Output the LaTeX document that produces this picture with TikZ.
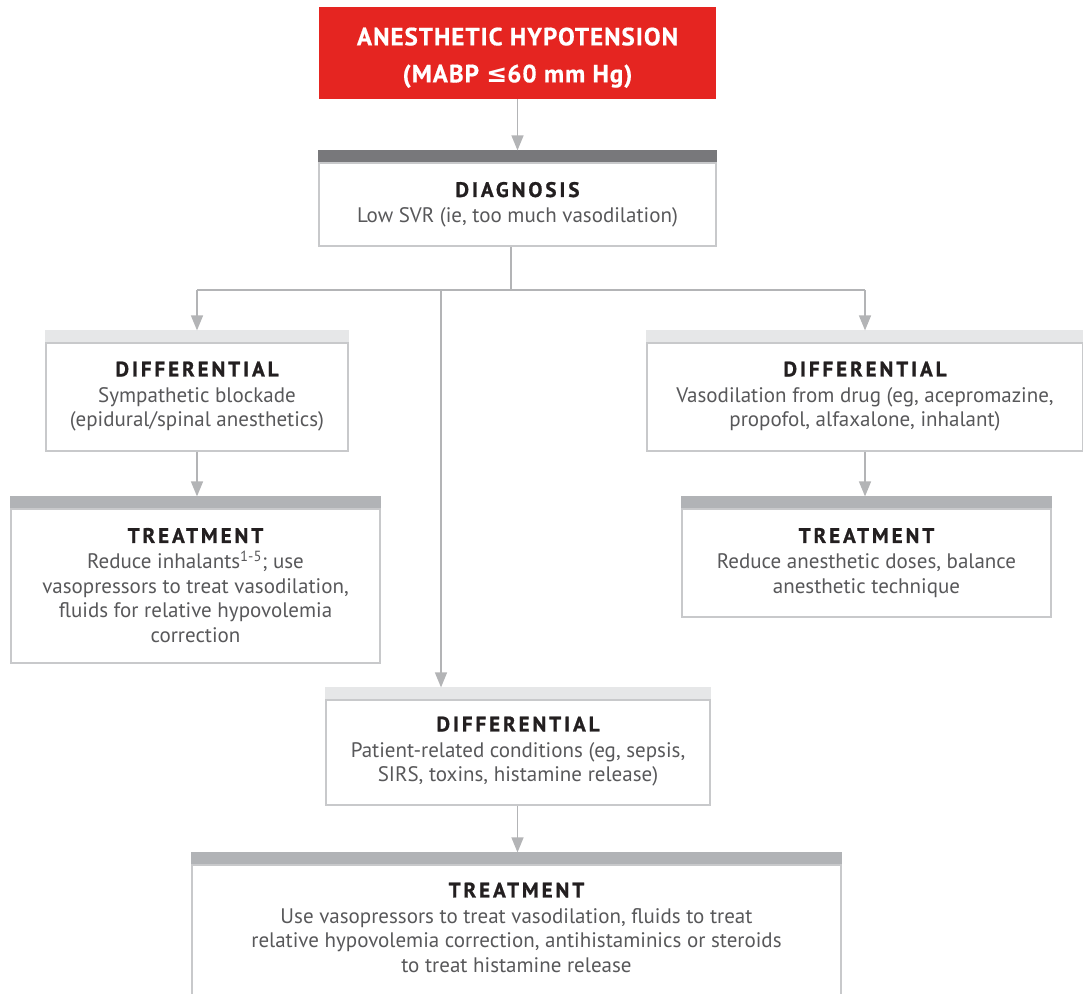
\documentclass[tikz,border=0pt]{standalone}
\usepackage{fontspec}
\setmainfont{PT Sans}
\newfontfamily\headfont{PT Sans}[LetterSpace=14,BoldFeatures={FakeBold=1}]
\newfontfamily\redfont{PT Sans}[LetterSpace=4,BoldFeatures={FakeBold=0.6}]
\newfontfamily\symfont{DejaVu Sans}
\usetikzlibrary{arrows.meta}
\definecolor{alarmred}{HTML}{E52521}
\definecolor{bardark}{HTML}{78787B}
\definecolor{barlight}{HTML}{E6E7E8}
\definecolor{barmid}{HTML}{B1B3B6}
\definecolor{linegray}{HTML}{B3B4B6}
\definecolor{framegray}{HTML}{C8C9CB}
\definecolor{textgray}{HTML}{58585A}
\definecolor{titleblack}{HTML}{231F20}
\newcommand{\panel}[5][19]{\begin{minipage}[t][#3pt][t]{#2pt}\centering
\vspace*{#1pt}{\headfont\bfseries\color{titleblack}#4}\\[1.5pt]#5\end{minipage}}
\begin{document}
\begin{tikzpicture}[x=1pt,y=-1pt,
  box/.style={draw=framegray, line width=1.2pt, fill=white, inner sep=0pt,
    text=textgray, font=\fontsize{21}{24.5}\selectfont},
  conn/.style={draw=linegray, line width=1.5pt},
  arr/.style={conn, -{Triangle[width=12pt,length=15pt]}}]
\useasboundingbox (0,0) rectangle (1083,993);
\node[fill=alarmred, text=white, inner sep=0pt, font=\redfont\bfseries\fontsize{25}{37}\selectfont]
  (alarm) at (517.5,53) {\begin{minipage}[t][92pt][t]{397pt}\centering\vspace*{20.5pt}
  ANESTHETIC HYPOTENSION\\(MABP {\symfont\bfseries ≤}60 mm Hg)\end{minipage}};
\node[box] (diag) at (517.5,204.5) {\panel{397}{83}{DIAGNOSIS}{Low SVR (ie, too much vasodilation)}};
\node[box] (ldiff) at (197,397) {\panel[18.5]{302}{108}{DIFFERENTIAL}{Sympathetic blockade\\(epidural/spinal anesthetics)}};
\node[box] (ltreat) at (195.5,586) {\panel{369}{154}{TREATMENT}{Reduce inhalants\textsuperscript{1-5}; use\\vasopressors to treat vasodilation,\\fluids for relative hypovolemia\\correction}};
\node[box] (rdiff) at (865,397) {\panel[18.5]{436}{108}{DIFFERENTIAL}{Vasodilation from drug (eg, acepromazine,\\propofol, alfaxalone, inhalant)}};
\node[box] (rtreat) at (866.5,563) {\panel{369}{108}{TREATMENT}{Reduce anesthetic doses, balance\\anesthetic technique}};
\node[box] (cdiff) at (518,752.5) {\panel[16.5]{384}{105}{DIFFERENTIAL}{Patient-related conditions (eg, sepsis,\\SIRS, toxins, histamine release)}};
\node[box] (btreat) at (516.5,932.5) {\panel[17.5]{649}{135}{TREATMENT}{Use vasopressors to treat vasodilation, fluids to treat\\relative hypovolemia correction, antihistaminics or steroids\\to treat histamine release}};
\fill[bardark] (diag.north west) rectangle ([yshift=12pt]diag.north east);
\fill[barlight] (ldiff.north west) rectangle ([yshift=12pt]ldiff.north east);
\fill[barlight] (rdiff.north west) rectangle ([yshift=12pt]rdiff.north east);
\fill[barlight] (cdiff.north west) rectangle ([yshift=12pt]cdiff.north east);
\fill[barmid] (ltreat.north west) rectangle ([yshift=12pt]ltreat.north east);
\fill[barmid] (rtreat.north west) rectangle ([yshift=12pt]rtreat.north east);
\fill[barmid] (btreat.north west) rectangle ([yshift=12pt]btreat.north east);
\coordinate (diag top) at ([yshift=12pt]diag.north);
\coordinate (ldiff top) at ([yshift=12pt]ldiff.north);
\coordinate (rdiff top) at ([yshift=12pt]rdiff.north);
\coordinate (cdiff top) at ([yshift=12pt]cdiff.north);
\coordinate (ltreat top) at ([yshift=12pt]ltreat.north);
\coordinate (rtreat top) at ([yshift=12pt]rtreat.north);
\coordinate (btreat top) at ([yshift=12pt]btreat.north);
\coordinate (split) at (511,290);
\coordinate (branch) at (441,290);
\draw[arr] (alarm.south) -- (diag top);
\draw[conn] (diag.south -| split) -- (split);
\draw[conn] (split -| ldiff.north) -- (split -| rdiff.north);
\draw[arr] (split -| ldiff.north) -- (ldiff top);
\draw[arr] (split -| rdiff.north) -- (rdiff top);
\draw[arr] (branch) -- (branch |- cdiff top);
\draw[arr] (ldiff.south) -- (ldiff.south |- ltreat top);
\draw[arr] (rdiff.south) -- (rdiff.south |- rtreat top);
\draw[arr] (cdiff.south -| alarm.south) -- (alarm.south |- btreat top);
\end{tikzpicture}
\end{document}
